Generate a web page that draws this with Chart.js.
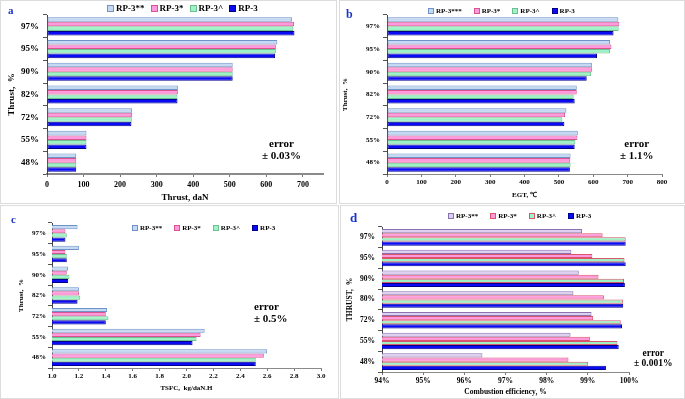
<!DOCTYPE html>
<html>
<head>
<meta charset="utf-8">
<script src="https://cdn.jsdelivr.net/npm/chart.js@4.4.1/dist/chart.umd.min.js"></script>
<style>
  body { margin: 0; background: #fff; }
  #page { position: relative; width: 685px; height: 399px; overflow: hidden; font-family: "Liberation Serif", "Times New Roman", serif; }
  .frame { position: absolute; box-sizing: border-box; border: 1px solid #dcdcdc; }
  canvas { position: absolute; }
  .letter { position: absolute; color: #1a35c8; font-weight: bold; }
  .err { position: absolute; font-weight: bold; text-align: center; line-height: 1.1; white-space: pre; }
  .legend { position: absolute; display: flex; align-items: center; font-weight: bold; white-space: nowrap; }
  .legend span.item { display: flex; align-items: center; }
  .legend span.box { display: inline-block; box-sizing: border-box; border: 1px solid; margin-right: 2px; }
</style>
</head>
<body>
<div id="page">
  <div class="frame" style="left:0;top:0;width:337px;height:204px"></div>
  <div class="frame" style="left:339px;top:0;width:346px;height:204px"></div>
  <div class="frame" style="left:0;top:205px;width:339px;height:194px"></div>
  <div class="frame" style="left:340px;top:205px;width:345px;height:194px"></div>

  <canvas id="chartA" width="337" height="204" style="left:0;top:0"></canvas>
  <canvas id="chartB" width="345" height="204" style="left:340px;top:0"></canvas>
  <canvas id="chartC" width="339" height="195" style="left:0;top:204px"></canvas>
  <canvas id="chartD" width="345" height="195" style="left:340px;top:204px"></canvas>

  <div class="letter" style="left:8px;top:4px;font-size:11px">a</div>
  <div class="letter" style="left:346px;top:7px;font-size:12px">b</div>
  <div class="letter" style="left:11px;top:213px;font-size:11px">c</div>
  <div class="letter" style="left:350px;top:210px;font-size:13px">d</div>

  <div class="err" style="left:262px;top:137px;font-size:11px">error
± 0.03%</div>
  <div class="err" style="left:620px;top:137px;font-size:11px">error
± 1.1%</div>
  <div class="err" style="left:254px;top:300px;font-size:11px;text-align:left">error
± 0.5%</div>
  <div class="err" style="left:634px;top:348px;font-size:9.5px">error
± 0.001%</div>

  <div class="legend" id="legA" style="left:107px;top:3px;font-size:9px"></div>
  <div class="legend" id="legB" style="left:428px;top:7px;font-size:7px"></div>
  <div class="legend" id="legC" style="left:132px;top:224px;font-size:7px"></div>
  <div class="legend" id="legD" style="left:448px;top:212px;font-size:7px"></div>
</div>

<script>
// categories
const thrustLevels = ['97%', '95%', '90%', '82%', '72%', '55%', '48%'];
const thrustLevelsD = ['97%', '95%', '90%', '80%', '72%', '55%', '48%'];

// (a) thrust, daN
const thrustRP3ss = [670, 630, 508, 358, 233, 108, 80];
const thrustRP3s  = [676, 626, 508, 358, 233, 108, 80];
const thrustRP3c  = [674, 626, 508, 357, 232, 108, 80];
const thrustRP3   = [677, 624, 508, 357, 231, 108, 80];

// (b) EGT, C
const egtRP3sss = [673, 649, 596, 552, 522, 555, 534];
const egtRP3s   = [676, 653, 597, 552, 518, 554, 533];
const egtRP3c   = [674, 649, 594, 543, 510, 548, 534];
const egtRP3    = [659, 611, 581, 546, 516, 546, 532];

// (c) TSFC, kg/daN.H
const tsfcRP3ss = [1.19, 1.20, 1.12, 1.20, 1.41, 2.135, 2.60];
const tsfcRP3s  = [1.10, 1.10, 1.11, 1.20, 1.40, 2.105, 2.575];
const tsfcRP3c  = [1.11, 1.11, 1.13, 1.21, 1.42, 2.075, 2.515];
const tsfcRP3   = [1.10, 1.11, 1.12, 1.19, 1.40, 2.045, 2.515];

// (d) combustion efficiency, %
const effRP3ss = [98.86, 98.60, 98.78, 98.65, 99.09, 98.58, 96.44];
const effRP3s  = [99.36, 99.11, 99.26, 99.39, 99.13, 99.05, 98.53];
const effRP3c  = [99.92, 99.89, 99.88, 99.86, 99.80, 99.72, 99.01];
const effRP3   = [99.92, 99.92, 99.90, 99.86, 99.83, 99.75, 99.44];

// tick labels
const ticksA = [0, 100, 200, 300, 400, 500, 600, 700];

const FONT = '"Liberation Serif", "Times New Roman", serif';

const styleABC = [
    { bg: '#c6d9f3', border: '#6f93c8' },
    { bg: '#ff99dd', border: '#d9558f' },
    { bg: '#9ff2c6', border: '#6cbf8e' },
    { bg: '#0a0af5', border: '#00008a' },
];
const styleD = [
    { bg: '#ddd0f0', border: '#8a72b0' },
    { bg: '#ff99dd', border: '#d9556a' },
    { bg: '#9ff2c6', border: '#d9556a' },
    { bg: '#0a0af5', border: '#00008a' },
];

const buildLegend = (id, names, styles, box, gap) => {
    const el = document.getElementById(id);
    el.style.gap = gap + 'px';
    names.forEach((name, i) => {
        el.insertAdjacentHTML('beforeend',
            `<span class="item"><span class="box" style="width:${box}px;height:${box}px;background:${styles[i].bg};border-color:${styles[i].border}"></span>${name}</span>`);
    });
};

const makeChart = (id, cfg) => {
    const ds = cfg.series.map((data, i) => ({
        label: cfg.names[i],
        data: data,
        backgroundColor: cfg.styles[i].bg,
        borderColor: cfg.styles[i].border,
        borderWidth: 1,
        borderSkipped: false,
        categoryPercentage: 0.8,
        barPercentage: 1.0,
    }));

    return new Chart(document.getElementById(id), {
        type: 'bar',
        data: { labels: cfg.labels, datasets: ds },
        options: {
            indexAxis: 'y',
            responsive: false,
            animation: false,
            devicePixelRatio: 1,
            layout: { padding: cfg.padding },
            plugins: { legend: { display: false }, tooltip: { enabled: false } },
            scales: {
                x: {
                    min: cfg.min,
                    max: cfg.max,
                    afterBuildTicks: cfg.filterTicks,
                    ticks: {
                        stepSize: cfg.step,
                        color: '#000',
                        font: { family: FONT, size: cfg.tickSize, weight: 'bold' },
                        padding: cfg.xTickPad,
                        maxRotation: 0,
                        callback: cfg.fmt,
                    },
                    grid: { drawOnChartArea: false, tickLength: 3, color: '#777' },
                    border: { color: '#8a8a8a', width: cfg.xBorder },
                    title: {
                        display: true,
                        text: cfg.xTitle,
                        color: '#000',
                        padding: 0,
                        font: { family: FONT, size: cfg.titleSize, weight: 'bold' },
                    },
                    afterFit: s => { s.height = cfg.xHeight; },
                },
                y: {
                    ticks: {
                        color: '#000',
                        autoSkip: false,
                        padding: cfg.yTickPad,
                        font: { family: FONT, size: cfg.yTickSize, weight: 'bold' },
                    },
                    grid: { drawOnChartArea: false, tickLength: 4, color: '#555' },
                    border: { color: '#444', width: 1 },
                    title: {
                        display: true,
                        text: cfg.yTitle,
                        color: '#000',
                        padding: 0,
                        font: { family: FONT, size: cfg.titleSize, weight: 'bold' },
                    },
                    afterFit: s => { s.width = cfg.yWidth; },
                },
            },
        },
    });
};

// (a)
buildLegend('legA', ['RP-3**', 'RP-3*', 'RP-3^', 'RP-3'], styleABC, 7, 6);
makeChart('chartA', {
    labels: thrustLevels,
    names: ['RP-3**', 'RP-3*', 'RP-3^', 'RP-3'],
    series: [thrustRP3ss, thrustRP3s, thrustRP3c, thrustRP3],
    styles: styleABC,
    min: 0, max: 755, step: 100,
    filterTicks: s => { s.ticks = ticksA.map(v => ({ value: v })); },
    fmt: v => v,
    padding: { left: 6, top: 15, right: 14, bottom: 1 },
    yWidth: 41, xHeight: 29,
    tickSize: 8, yTickSize: 9, titleSize: 9,
    xTickPad: 3, yTickPad: 4, xBorder: 2,
    xTitle: 'Thrust, daN', yTitle: 'Thrust,  %',
});

// (b)
buildLegend('legB', ['RP-3***', 'RP-3*', 'RP-3^', 'RP-3'], styleABC, 6, 12);
makeChart('chartB', {
    labels: thrustLevels,
    names: ['RP-3***', 'RP-3*', 'RP-3^', 'RP-3'],
    series: [egtRP3sss, egtRP3s, egtRP3c, egtRP3],
    styles: styleABC,
    min: 0, max: 800, step: 100,
    filterTicks: undefined,
    fmt: v => v,
    padding: { left: 1, top: 15, right: 23, bottom: 5 },
    yWidth: 46, xHeight: 25,
    tickSize: 7, yTickSize: 7, titleSize: 7,
    xTickPad: 1, yTickPad: 3, xBorder: 1,
    xTitle: 'EGT, \u2103', yTitle: 'Thrust,  %',
});

// (c)
buildLegend('legC', ['RP-3**', 'RP-3*', 'RP-3^', 'RP-3'], styleABC, 6, 12);
makeChart('chartC', {
    labels: thrustLevels,
    names: ['RP-3**', 'RP-3*', 'RP-3^', 'RP-3'],
    series: [tsfcRP3ss, tsfcRP3s, tsfcRP3c, tsfcRP3],
    styles: styleABC,
    min: 1.0, max: 3.0, step: 0.2,
    filterTicks: undefined,
    fmt: v => Number(v).toFixed(1),
    padding: { left: 17, top: 19, right: 18, bottom: 7 },
    yWidth: 35, xHeight: 24,
    tickSize: 7, yTickSize: 7, titleSize: 7,
    xTickPad: 1, yTickPad: 2, xBorder: 1,
    xTitle: 'TSFC,  kg/daN.H', yTitle: 'Thrust,  %',
});

// (d)
buildLegend('legD', ['RP-3**', 'RP-3*', 'RP-3^', 'RP-3'], styleD, 6, 12);
makeChart('chartD', {
    labels: thrustLevelsD,
    names: ['RP-3**', 'RP-3*', 'RP-3^', 'RP-3'],
    series: [effRP3ss, effRP3s, effRP3c, effRP3],
    styles: styleD,
    min: 94, max: 100, step: 1,
    filterTicks: undefined,
    fmt: v => v + '%',
    padding: { left: 6, top: 23, right: 56, bottom: 2 },
    yWidth: 36, xHeight: 25,
    tickSize: 7.5, yTickSize: 7.5, titleSize: 7.5,
    xTickPad: 2, yTickPad: 3, xBorder: 1,
    xTitle: 'Combustion efficiency, %', yTitle: 'THRUST,  %',
});
</script>
</body>
</html>
